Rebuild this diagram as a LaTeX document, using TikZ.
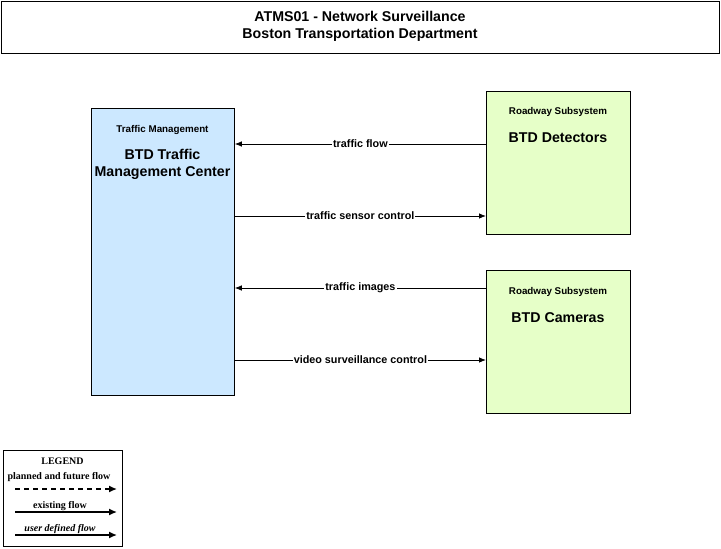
\documentclass[tikz,border=0pt]{standalone}
\usepackage{fontspec}
\setmainfont{Liberation Sans}
\newfontfamily\legfont{Liberation Serif}
\usetikzlibrary{arrows.meta}
\definecolor{tmcblue}{RGB}{204,232,255}
\definecolor{rsgreen}{RGB}{230,255,200}
\begin{document}
\begin{tikzpicture}[x=1pt,y=-1pt,
  box/.style={draw=black,line width=0.8pt,anchor=north west,inner sep=0pt},
  flow/.style={-{Latex[length=7pt,width=5.5pt]},line width=0.8pt},
  legflow/.style={-{Latex[length=8pt,width=7pt]},line width=1.4pt},
  lbl/.style={fill=white,inner sep=1pt,font=\fontsize{10.8}{12}\selectfont\bfseries},
  small/.style={font=\fontsize{9.8}{11}\selectfont\bfseries},
  big/.style={font=\fontsize{14.2}{17}\selectfont\bfseries,align=center},
  legtxt/.style={font=\legfont\fontsize{10}{11}\selectfont\bfseries}]
\useasboundingbox (0,0) rectangle (721,549);
% title
\node[box,minimum width=718,minimum height=52] (title) at (1,1) {};
\node[font=\fontsize{14.2}{16.5}\selectfont\bfseries,align=center] (ttext) at (360,26.5)
  {ATMS01 - Network Surveillance\\Boston Transportation Department};
% TMC
\node[box,fill=tmcblue,minimum width=143,minimum height=287] (tmc) at (91,108) {};
\node[small] (tmct) at (162.5,130) {Traffic Management};
\node[big] (tmcn) at (162.5,164.5) {BTD Traffic\\Management Center};
% Detectors
\node[box,fill=rsgreen,minimum width=144,minimum height=143] (det) at (486,91) {};
\node[small] (dett) at (558,112) {Roadway Subsystem};
\node[big] (detn) at (558,138) {BTD Detectors};
% Cameras
\node[box,fill=rsgreen,minimum width=144,minimum height=143] (cam) at (486,270) {};
\node[small] (camt) at (558,292) {Roadway Subsystem};
\node[big] (camn) at (558,318) {BTD Cameras};
% flows
\coordinate (d1) at (det.west |- 0,144);
\coordinate (t1) at (tmc.east |- 0,144);
\draw[flow] (d1) -- node[lbl,pos=0.5] {traffic flow} (t1);
\coordinate (t2) at (tmc.east |- 0,216);
\coordinate (d2) at (det.west |- 0,216);
\draw[flow] (t2) -- node[lbl,pos=0.5] {traffic sensor control} (d2);
\coordinate (c3) at (cam.west |- 0,288);
\coordinate (t3) at (tmc.east |- 0,288);
\draw[flow] (c3) -- node[lbl,pos=0.5] {traffic images} (t3);
\coordinate (t4) at (tmc.east |- 0,360);
\coordinate (c4) at (cam.west |- 0,360);
\draw[flow] (t4) -- node[lbl,pos=0.5] {video surveillance control} (c4);
% legend
\node[box,line width=1pt,minimum width=119,minimum height=96] (leg) at (3,450) {};
\node[legtxt] (legt) at (62.5,461) {LEGEND};
\node[legtxt] (l1t) at (59,477) {planned and future flow};
\coordinate (l1a) at (15,489); \coordinate (l1b) at (117,489);
\draw[legflow,dash pattern=on 5pt off 4pt] (l1a) -- (l1b);
\node[legtxt] (l2t) at (60,506) {existing flow};
\coordinate (l2a) at (15,512); \coordinate (l2b) at (117,512);
\draw[legflow] (l2a) -- (l2b);
\node[legtxt,font=\legfont\fontsize{10}{11}\selectfont\bfseries\itshape] (l3t) at (60,529) {user defined flow};
\coordinate (l3a) at (15,535); \coordinate (l3b) at (117,535);
\draw[legflow] (l3a) -- (l3b);
\end{tikzpicture}
\end{document}
